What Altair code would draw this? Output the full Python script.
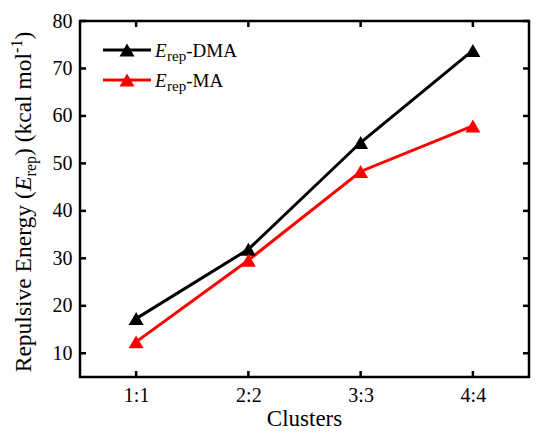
import altair as alt
import pandas as pd

# ---------------- data ----------------
categories = ["1:1", "2:2", "3:3", "4:4"]
dma_values = [17.3, 31.9, 54.4, 73.8]
ma_values = [12.4, 29.6, 48.3, 57.9]
series_names = ["DMA", "MA"]
series_colors = ["#000000", "#ff0000"]
y_tick_values = [10, 20, 30, 40, 50, 60, 70, 80]
y_domain = [5, 80]

# ---------------- layout ----------------
W, H = 449, 356
FONT = "Liberation Serif"

# Times / Liberation Serif advance widths (per 1000 em)
TW = {"R": 667, "e": 444, "p": 500, "u": 500, "l": 278, "s": 389, "i": 278,
      "v": 500, " ": 250, "E": 611, "n": 500, "r": 333, "g": 500, "y": 500,
      "(": 333, ")": 333, "k": 500, "c": 444, "a": 444, "m": 778, "o": 500,
      "-": 333, "1": 500, "D": 722, "M": 889, "A": 722}


def tw(s, size):
    return sum(TW.get(ch, 500) for ch in s) / 1000.0 * size


df = pd.DataFrame({
    "cluster": categories * 2,
    "value": dma_values + ma_values,
    "series": [series_names[0]] * len(categories) + [series_names[1]] * len(categories),
})

xscale = alt.Scale(type="point", domain=categories, padding=0.5)
yscale = alt.Scale(domain=y_domain, nice=False, zero=False)
cscale = alt.Scale(domain=series_names, range=series_colors)

x_axis = alt.Axis(title=None, labelAngle=0, labelFont=FONT, labelFontSize=20,
                  labelColor="black", tickSize=0,
                  domain=False, grid=False, labelPadding=8)
y_axis = alt.Axis(title=None, values=y_tick_values, labelFont=FONT, labelFontSize=20,
                  labelColor="black", tickSize=0, domain=False, grid=False,
                  labelPadding=8)

X = alt.X("cluster:O", scale=xscale, sort=categories, axis=x_axis, title=None)
Y = alt.Y("value:Q", scale=yscale, axis=y_axis, title=None)

base = alt.Chart(df).encode(
    x=X, y=Y,
    color=alt.Color("series:N", scale=cscale, legend=None),
)
lines = base.mark_line(strokeWidth=3)
points = base.mark_point(shape="triangle-up", filled=True, size=225, opacity=1)

# inward ticks on all four sides
ydf = pd.DataFrame({"value": y_tick_values})
xdf = pd.DataFrame({"cluster": categories})
TL = 6
tick_style = dict(color="black", strokeWidth=2.5)
left_ticks = alt.Chart(ydf).mark_rule(**tick_style).encode(
    y=Y, x=alt.value(0), x2=alt.value(TL))
right_ticks = alt.Chart(ydf).mark_rule(**tick_style).encode(
    y=Y, x=alt.value(W - TL), x2=alt.value(W))
bottom_ticks = alt.Chart(xdf).mark_rule(**tick_style).encode(
    x=X, y=alt.value(H - TL), y2=alt.value(H))
top_ticks = alt.Chart(xdf).mark_rule(**tick_style).encode(
    x=X, y=alt.value(0), y2=alt.value(TL))


def text_layer(s, x, y, size, italic=False, angle=0, align="left"):
    kw = dict(font=FONT, fontSize=size, align=align, baseline="alphabetic",
              color="black")
    if italic:
        kw["fontStyle"] = "italic"
    if angle:
        kw["angle"] = angle
    return alt.Chart(pd.DataFrame({"t": [s]})).mark_text(**kw).encode(
        text="t:N", x=alt.value(x), y=alt.value(y))


# legend
legend_layers = []
LS, SS = 19, 15
for i, (name, col) in enumerate(zip(series_names, series_colors)):
    ly = 29 + 30 * i
    legend_layers.append(alt.Chart(pd.DataFrame({"s": [name]})).mark_rule(
        color=col, strokeWidth=3).encode(x=alt.value(23), x2=alt.value(71), y=alt.value(ly)))
    legend_layers.append(alt.Chart(pd.DataFrame({"s": [name]})).mark_point(
        shape="triangle-up", filled=True, size=225, opacity=1, color=col).encode(
        x=alt.value(47), y=alt.value(ly)))
    tx = 75
    by = ly + 7
    legend_layers.append(text_layer("E", tx, by, LS, italic=True))
    tx += tw("E", LS) + 0.5
    legend_layers.append(text_layer("rep", tx, by + 4, SS))
    tx += tw("rep", SS)
    legend_layers.append(text_layer("-" + name, tx, by, LS))

# rotated y title with italic E, subscript and superscript
TS, TSS = 23.5, 16
bx = -49
segments = [("Repulsive Energy (", TS, False, 0),
            ("E", TS, True, 0),
            ("rep", TSS, False, 5),
            (") (kcal mol", TS, False, 0),
            ("-1", TSS, False, -9),
            (")", TS, False, 0)]
total = sum(tw(s, sz) for s, sz, _, _ in segments)
cy = 181
pos = cy + total / 2
title_layers = []
for s, sz, it, shift in segments:
    title_layers.append(text_layer(s, bx + shift, pos, sz, italic=it, angle=270))
    pos -= tw(s, sz)

# x title
title_layers.append(text_layer("Clusters", W / 2, H + 49, 23, align="center"))

chart = alt.layer(lines, points, left_ticks, right_ticks, bottom_ticks, top_ticks,
                  *legend_layers, *title_layers).properties(
    width=W, height=H, autosize="none",
    padding={"left": 72, "top": 13, "right": 2, "bottom": 54},
    background="white",
).configure_view(stroke="black", strokeWidth=2.5)

chart.save("out.html", embed_options={"renderer": "svg", "actions": False})
